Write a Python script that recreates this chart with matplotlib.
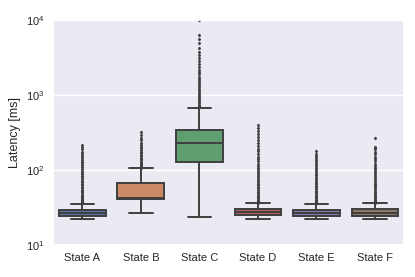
import matplotlib
matplotlib.use("Agg")
import matplotlib.pyplot as plt
import seaborn as sns

sns.set_theme(style="darkgrid")
plt.rcParams['font.family'] = ['Liberation Sans', 'DejaVu Sans']

states = ["State A", "State B", "State C", "State D", "State E", "State F"]
whislo = [22, 26.5, 23.5, 22, 22, 22]
q1 = [24.6, 41, 128, 25, 24.4, 24.4]
med = [27, 42.5, 229, 28, 27, 27]
q3 = [29, 67, 342, 30, 29, 30]
whishi = [35, 106, 670, 36, 35, 36]
fliers_a = [36, 37, 38, 39, 40, 41, 42, 44, 45, 47, 49, 51, 53, 55, 58, 60, 63, 66, 69, 72,
            76, 80, 84, 88, 93, 98, 104, 110, 116, 123, 130, 138, 146, 155, 165, 176, 190, 205, 215]
fliers_b = [108, 112, 116, 120, 125, 130, 135, 141, 147, 154, 161, 168, 176, 185, 195,
            205, 218, 232, 250, 270, 295, 320]
fliers_c = [690, 720, 750, 790, 830, 870, 920, 970, 1020, 1080, 1140, 1210, 1280, 1360, 1450,
            1550, 1650, 1770, 1900, 2050, 2200, 2400, 2600, 2850, 3100, 3400, 3800, 4300,
            4900, 5600, 6300, 10000]
fliers_d = [37, 38, 39, 40, 42, 43, 45, 47, 49, 51, 54, 57, 60, 63, 66, 70, 74, 78, 83, 88,
            94, 100, 107, 114, 122, 131, 141, 152, 164, 178, 193, 210, 230, 252, 277, 305,
            335, 370, 400]
fliers_e = [36, 37, 38, 39, 40, 42, 43, 45, 47, 49, 51, 53, 56, 59, 62, 65, 68, 72, 76, 80,
            85, 90, 95, 101, 107, 114, 121, 129, 137, 146, 155, 165, 178]
fliers_f = [37, 38, 39, 40, 42, 43, 45, 47, 49, 51, 54, 57, 60, 63, 66, 70, 74, 78, 83, 88,
            94, 100, 107, 114, 122, 131, 141, 152, 164, 177, 190, 200, 205, 270]
fliers = [fliers_a, fliers_b, fliers_c, fliers_d, fliers_e, fliers_f]

palette = sns.color_palette("deep", 6)
colors = [sns.desaturate(c, 0.75) for c in palette]
edge = "#3f3f3f"

stats = []
for i, s in enumerate(states):
    stats.append(dict(label=s, med=med[i], q1=q1[i], q3=q3[i],
                      whislo=whislo[i], whishi=whishi[i], fliers=fliers[i]))

fig = plt.figure(figsize=(4.15, 2.77), dpi=100)
ax = fig.add_axes([0.128, 0.115, 0.846, 0.812])
lw = 1.4
bp = ax.bxp(stats, positions=range(6), widths=0.8, patch_artist=True,
            boxprops=dict(edgecolor=edge, linewidth=lw),
            medianprops=dict(color=edge, linewidth=lw),
            whiskerprops=dict(color=edge, linewidth=lw),
            capprops=dict(color=edge, linewidth=lw),
            flierprops=dict(marker='d', markersize=1.3, markerfacecolor=edge,
                            markeredgecolor=edge, linestyle='none'))
for patch, c in zip(bp['boxes'], colors):
    patch.set_facecolor(c)
for cap in bp['caps']:
    x = cap.get_xdata()
    mid = (x[0] + x[1]) / 2
    cap.set_xdata([mid - 0.2, mid + 0.2])

ax.set_yscale('log')
ax.set_ylim(10, 10000)
ax.set_xlim(-0.5, 5.5)
ax.set_xticks(range(6))
ax.set_xticklabels(states)
ax.set_ylabel("Latency [ms]", fontsize=9)
ax.tick_params(axis='both', labelsize=8, length=0, pad=6)
ax.yaxis.set_minor_locator(matplotlib.ticker.NullLocator())
ax.grid(axis='x', visible=False)

fig.savefig("out.png", dpi=100)
